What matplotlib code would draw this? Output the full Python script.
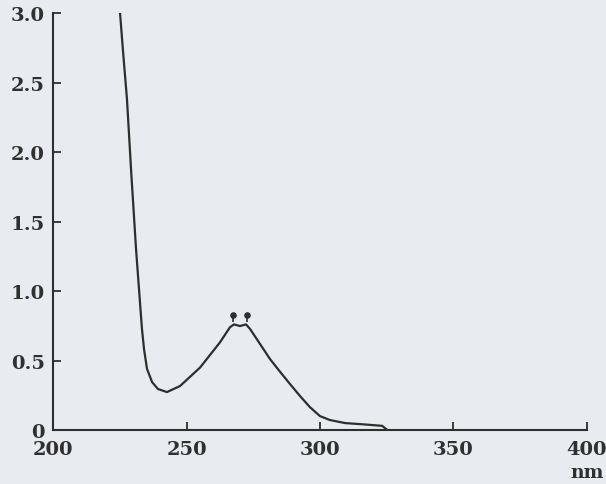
import matplotlib
matplotlib.use("Agg")
import matplotlib.pyplot as plt

wavelength = [225.1, 226.2, 227.7, 229.3, 231.1, 233.3, 234.1, 235.2, 237.1, 239.3,
              242.7, 247.6, 255.1, 262.5, 266.3, 267.8, 270.0, 272.3, 273.8, 277.5,
              281.3, 285.0, 288.8, 292.5, 296.2, 300.0, 303.7, 309.4, 316.8, 323.3, 325.2]
absorbance = [3.00, 2.73, 2.38, 1.85, 1.30, 0.73, 0.58, 0.44, 0.345, 0.295,
              0.273, 0.317, 0.45, 0.63, 0.74, 0.76, 0.748, 0.76, 0.727, 0.62,
              0.51, 0.42, 0.33, 0.245, 0.165, 0.10, 0.072, 0.05, 0.04, 0.03, 0.0]
peak_marks_x = [267.3, 272.5]
peak_marks_y = [0.83, 0.83]

x_ticks = [200, 250, 300, 350, 400]
x_tick_labels = ["200", "250", "300", "350", "400"]
y_ticks = [0, 0.5, 1.0, 1.5, 2.0, 2.5, 3.0]
y_tick_labels = ["0", "0.5", "1.0", "1.5", "2.0", "2.5", "3.0"]

bg = "#e8ebf0"
ink = "#2e2e2e"

fig = plt.figure(figsize=(6.06, 4.85), dpi=100, facecolor=bg)
ax = fig.add_axes([0.0875, 0.1113, 0.8811, 0.8597], facecolor=bg)

ax.plot(wavelength, absorbance, color=ink, lw=1.6, solid_capstyle="round")
ax.vlines(peak_marks_x, [0.78, 0.78], peak_marks_y, color=ink, lw=1.2)
ax.scatter(peak_marks_x, peak_marks_y, s=14, color=ink, zorder=3)

ax.set_xlim(200, 400)
ax.set_ylim(0, 3.0)
for s in ["top", "right"]:
    ax.spines[s].set_visible(False)
for s in ["left", "bottom"]:
    ax.spines[s].set_color(ink)
    ax.spines[s].set_linewidth(1.5)

font = dict(family="DejaVu Serif", size=14, weight="bold")
ax.set_xticks(x_ticks)
ax.set_xticklabels(x_tick_labels, **font)
ax.set_yticks(y_ticks)
ax.set_yticklabels(y_tick_labels, **font)
ax.tick_params(axis="both", direction="in", length=6, width=1.3, color=ink,
               labelcolor="#303030")
ax.tick_params(axis="x", pad=7)
ax.tick_params(axis="y", pad=6)

ax.text(400, -0.30, "nm", ha="center", va="center", fontsize=13.5,
        family="DejaVu Serif", weight="bold", color="#303030")

fig.savefig("out.png", dpi=100, facecolor=bg)
